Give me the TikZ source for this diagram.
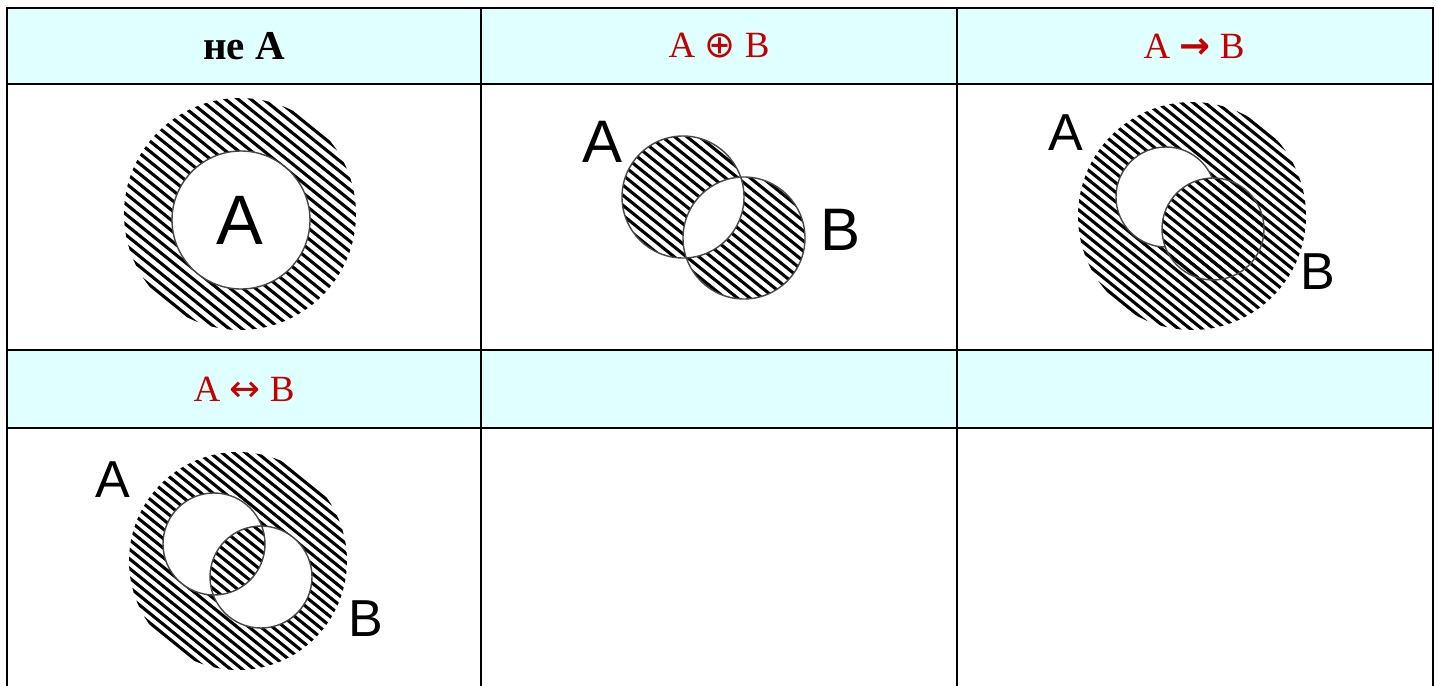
\documentclass[tikz,border=0pt]{standalone}
\usepackage{fontspec}
\setmainfont{Liberation Serif}
\newfontfamily\lblf{Liberation Sans}
\newfontfamily\symf{DejaVu Sans}
\definecolor{hdr}{RGB}{224,255,255}
\definecolor{hred}{RGB}{196,0,0}
\definecolor{ringc}{RGB}{70,70,70}
\newcommand\hatchfam[3]{%
  \begin{scope}[shift={(#1,#2)},rotate=-39]
  \foreach \i in {-26,...,26}{%
    \draw[hatchline] (-300,{\i*#3}) -- (300,{\i*#3});
  }
  \end{scope}}
\begin{document}
\begin{tikzpicture}[x=0.5pt,y=-0.5pt,
  hatchline/.style={line width=1.55pt,black},
  ring/.style={draw=ringc,line width=0.7pt},
  hline/.style={line width=1.1pt,black},
  vline/.style={line width=0.8pt,black},
  lbl/.style={inner sep=0pt,font=\lblf},
  hdrtext/.style={inner sep=0pt,text=hred,font=\fontsize{18.5}{20}\selectfont}]
\useasboundingbox (0,0) rectangle (1437,686);
\fill[white] (0,0) rectangle (1437,686);
% header fills
\fill[hdr] (7,8) rectangle (1433,84);
\fill[hdr] (7,350) rectangle (1433,428);
% grid
\draw[hline] (6,8) -- (1434,8);
\draw[hline] (6,84) -- (1434,84);
\draw[hline] (6,350) -- (1434,350);
\draw[hline] (6,428) -- (1434,428);
\draw[line width=1.1pt] (7,8) -- (7,686);
\draw[vline] (481,8) -- (481,686);
\draw[vline] (957,8) -- (957,686);
\draw[line width=1.1pt] (1433,8) -- (1433,686);
% headers
\node[inner sep=0pt,font=\bfseries\fontsize{20.5}{22}\selectfont] (h1) at (244,46) {не A};
\node[hdrtext] (h2) at (719,46) {A {\symf ⊕} B};
\node[hdrtext] (h3) at (1194,46) {A {\symf\bfseries →} B};
\node[hdrtext] (h4) at (244,389) {A {\symf ↔} B};
% panel 1: not A
\begin{scope}[even odd rule]
  \clip (240,214) circle[radius=116] (241,220) circle[radius=69];
  \hatchfam{240}{214}{8}
\end{scope}
\draw[ring] (241,220) circle[radius=69];
\node[lbl,font=\lblf\fontsize{35}{36}\selectfont] (p1A) at (240,220) {A};
% panel 2: xor
\begin{scope}[even odd rule]
  \clip (683,197) circle[radius=61] (744,238) circle[radius=61];
  \hatchfam{713}{218}{7.8}
\end{scope}
\draw[ring] (683,197) circle[radius=61];
\draw[ring] (744,238) circle[radius=61];
\node[lbl,font=\lblf\fontsize{30}{31}\selectfont] (p2A) at (603,142) {A};
\node[lbl,font=\lblf\fontsize{30}{31}\selectfont] (p2B) at (841,230) {B};
% panel 3: implication
\begin{scope}[even odd rule]
  \clip (1192,216) circle[radius=114] (1166,197) circle[radius=50];
  \hatchfam{1192}{216}{7.4}
\end{scope}
\begin{scope}
  \clip (1213,229) circle[radius=51];
  \hatchfam{1192}{216}{7.4}
\end{scope}
\begin{scope}[even odd rule]
  \clip (1000,80) rectangle (1400,340) (1213,229) circle[radius=51];
  \draw[ring] (1166,197) circle[radius=50];
\end{scope}
\draw[ring] (1213,229) circle[radius=51];
\node[lbl,font=\lblf\fontsize{26}{27}\selectfont] (p3A) at (1066,133) {A};
\node[lbl,font=\lblf\fontsize{26}{27}\selectfont] (p3B) at (1318,272) {B};
% panel 4: equivalence
\begin{scope}[even odd rule]
  \clip (238,561) circle[radius=109] (214,544) circle[radius=51] (261,577) circle[radius=51];
  \hatchfam{238}{561}{7.4}
\end{scope}
\draw[ring] (214,544) circle[radius=51];
\draw[ring] (261,577) circle[radius=51];
\node[lbl,font=\lblf\fontsize{26}{27}\selectfont] (p4A) at (113,480) {A};
\node[lbl,font=\lblf\fontsize{26}{27}\selectfont] (p4B) at (366,619) {B};
\end{tikzpicture}
\end{document}
